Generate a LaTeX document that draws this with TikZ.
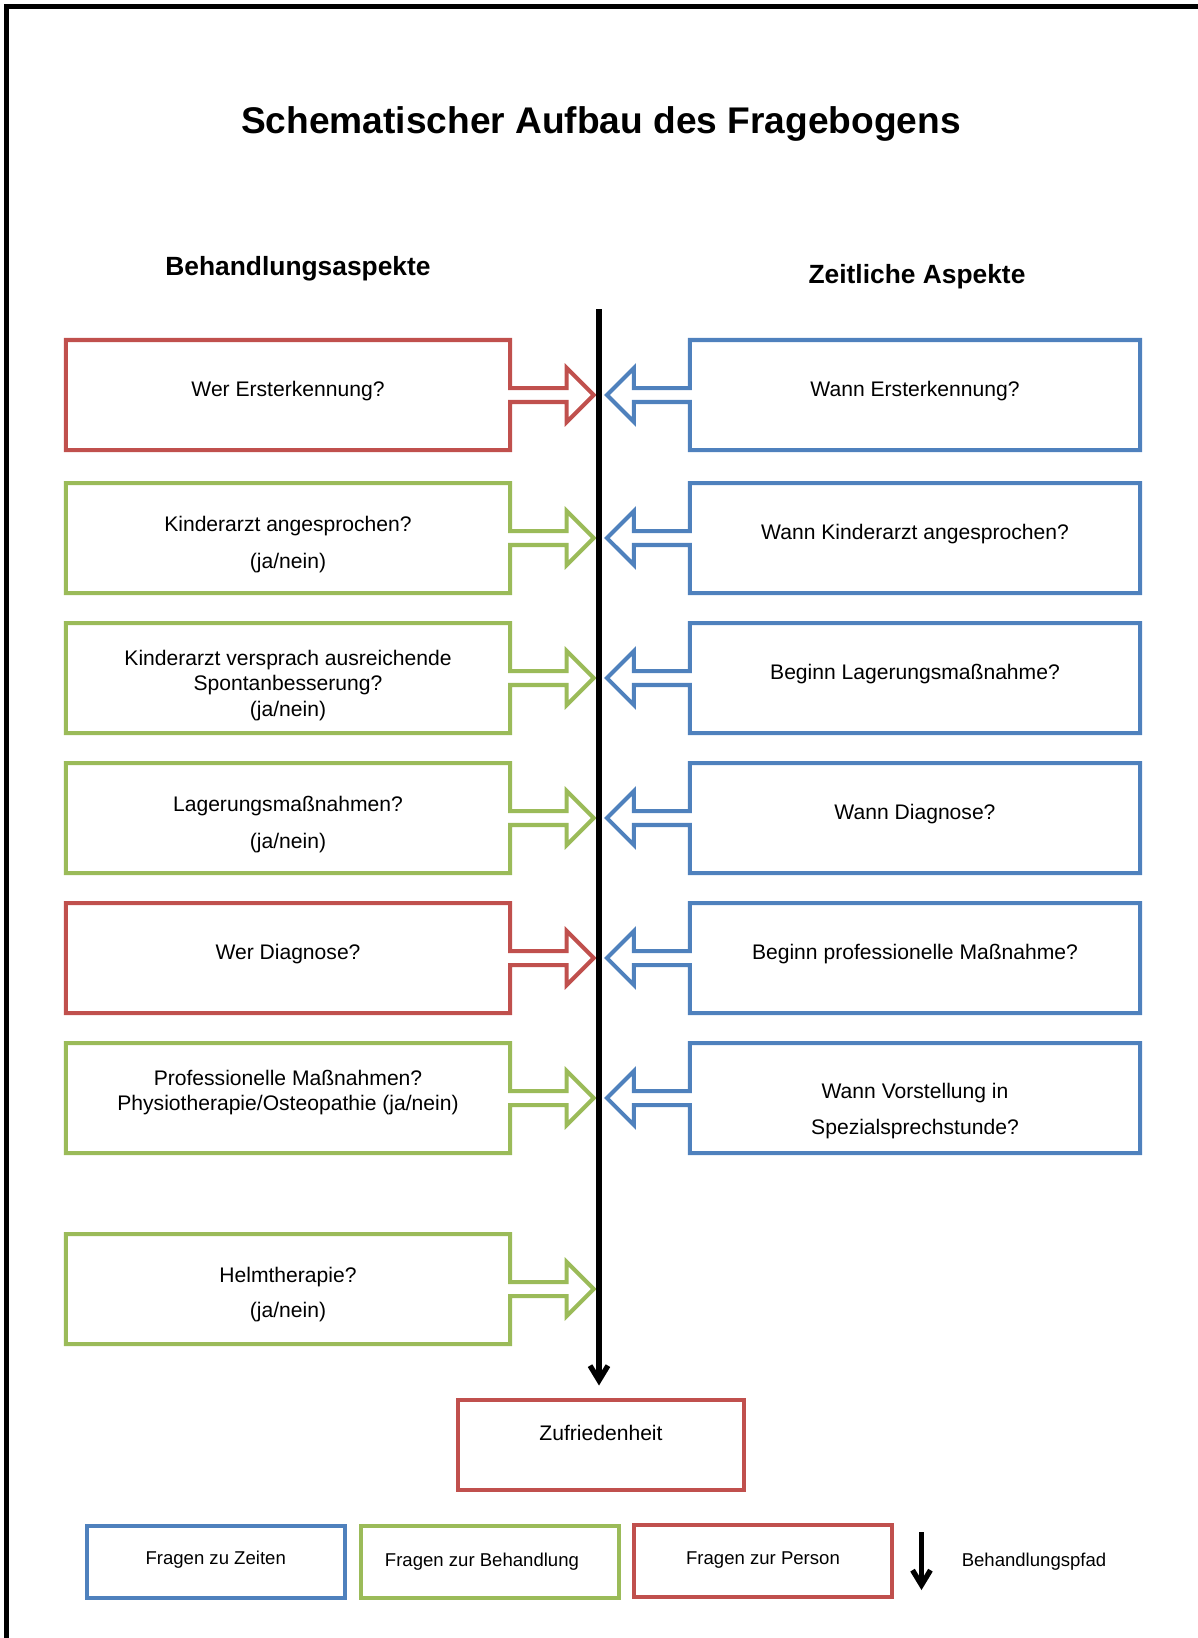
\documentclass[tikz,border=0pt]{standalone}
\usepackage{fontspec}
\setmainfont{Liberation Sans}
\usetikzlibrary{shapes.arrows,arrows.meta}
\definecolor{qred}{RGB}{192,80,77}
\definecolor{qgreen}{RGB}{155,187,89}
\definecolor{qblue}{RGB}{79,129,189}
\newcommand{\topgap}[1]{\rule{0pt}{#1}}
\newcommand{\botgap}[1]{\rule[-#1]{0pt}{0pt}}
\tikzstyle{qbox}=[arrow box, draw, line width=1.9pt, minimum height=1.833cm, align=center, inner sep=2pt, font=\fontsize{10}{12}\selectfont, arrow box shaft width=0.233cm, arrow box head extend=0.333cm]
\tikzstyle{lq}=[qbox, minimum width=7.4cm, arrow box arrows={east:1.36cm}]
\tikzstyle{rq}=[qbox, draw=qblue, minimum width=7.5cm, arrow box arrows={west:1.35cm}]
\tikzstyle{one}=[text depth=0.56em]
\tikzstyle{key}=[draw, line width=1.9pt, minimum width=4.3cm, minimum height=1.2cm, font=\fontsize{8.8}{10}\selectfont]
\tikzstyle{pfad}=[-{Straight Barb[length=7pt,width=8.5pt]}, line width=2.5pt]
\tikzstyle{head}=[font=\fontsize{12.5}{15}\selectfont\bfseries]

\begin{document}
\begin{tikzpicture}[x=0.016667cm, y=-0.016667cm]
  \useasboundingbox (0,0) rectangle (1197,1638);
  \draw[line width=2.4pt] (6.8,1640) -- (6.8,6.5) -- (1199,6.5);

  \node[font=\fontsize{17.6}{21}\selectfont\bfseries] (title) at (601,124) {Schematischer Aufbau des Fragebogens};
  \node[head] (behandlung) at (298,269) {Behandlungsaspekte};
  \node[head] (zeitlich) at (917,277) {Zeitliche Aspekte};

  % Behandlungsaspekte
  \node[lq, one, draw=qred] (werErst) at (288,395) {Wer Ersterkennung?};
  \node[lq, draw=qgreen] (kinderarzt) at (288,538) {\topgap{13.3pt}Kinderarzt angesprochen?\\[5.8pt](ja/nein)};
  \node[lq, draw=qgreen] (spontan) at (288,678) {\topgap{14.2pt}Kinderarzt versprach ausreichende\\Spontanbesserung?\\(ja/nein)};
  \node[lq, draw=qgreen] (lagerung) at (288,818) {\topgap{13.3pt}Lagerungsmaßnahmen?\\[5.8pt](ja/nein)};
  \node[lq, one, draw=qred] (werDiag) at (288,958) {Wer Diagnose?};
  \node[lq, draw=qgreen] (profi) at (288,1098) {Professionelle Maßnahmen?\\Physiotherapie/Osteopathie (ja/nein)\botgap{7.5pt}};
  \node[lq, draw=qgreen] (helm) at (288,1289) {\topgap{12.7pt}Helmtherapie?\\[4.8pt](ja/nein)};

  % Zeitliche Aspekte
  \node[rq, one] (wannErst) at (915,395) {Wann Ersterkennung?};
  \node[rq, one] (wannKinder) at (915,538) {Wann Kinderarzt angesprochen?};
  \node[rq, one] (beginnLager) at (915,678) {Beginn Lagerungsmaßnahme?};
  \node[rq, one] (wannDiag) at (915,818) {Wann Diagnose?};
  \node[rq, one] (beginnProfi) at (915,958) {Beginn professionelle Maßnahme?};
  \node[rq] (wannSpezial) at (915,1098) {\topgap{19.7pt}Wann Vorstellung in\\[5.3pt]Spezialsprechstunde?};

  \node[draw=qred, line width=1.9pt, minimum width=4.78cm, minimum height=1.5cm, text depth=1.1em, font=\fontsize{10}{12}\selectfont] (zuf) at (601,1444.5) {Zufriedenheit};
  \coordinate (start) at (599,309);
  \draw[pfad, shorten >=0.2cm] (start) -- (start |- zuf.north);

  % Legende
  \node[key, draw=qblue, text depth=0.42em] (kZeit) at (215.7,1562) {Fragen zu Zeiten};
  \node[key, draw=qgreen] (kBeh) at (490.4,1561.5) {Fragen zur Behandlung\hspace*{8pt}};
  \node[key, draw=qred] (kPerson) at (763,1560.5) {Fragen zur Person};
  \coordinate (pTop) at (921.5,1532);
  \coordinate (pEnd) at (921.5,1590);
  \draw[pfad] (pTop) -- (pEnd);
  \node[font=\fontsize{8.8}{10}\selectfont] (kPfad) at (1034,1562) {Behandlungspfad};
\end{tikzpicture}
\end{document}
